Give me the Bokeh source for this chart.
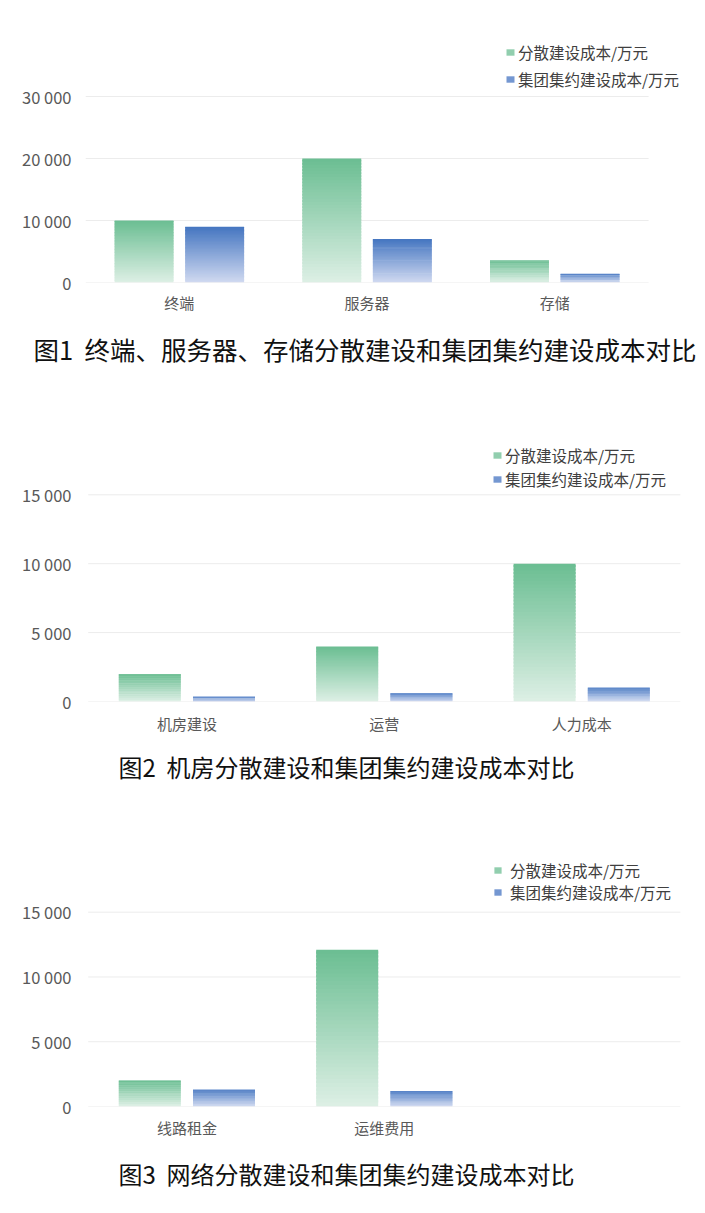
from bokeh.plotting import figure
from bokeh.models import (ColumnDataSource, Range1d, FixedTicker,
                          Legend, LegendItem, Title)
from bokeh.transform import dodge
from bokeh.layouts import column
from bokeh.embed import file_html
from bokeh.resources import INLINE
from bokeh.core.properties import value

# ---------------- data ----------------
series_names = ["分散建设成本/万元", "集团集约建设成本/万元"]

cats1 = ["终端", "服务器", "存储"]
dispersed1 = [10000, 20000, 3600]
central1 = [9000, 7000, 1400]
ticks1 = [0, 10000, 20000, 30000]
tick_labels1 = ["0", "10 000", "20 000", "30 000"]
caption1 = "图1\u00a0\u00a0终端、服务器、存储分散建设和集团集约建设成本对比"

cats2 = ["机房建设", "运营", "人力成本"]
dispersed2 = [2000, 4000, 10000]
central2 = [350, 600, 1000]
ticks2 = [0, 5000, 10000, 15000]
tick_labels2 = ["0", "5 000", "10 000", "15 000"]
caption2 = "图2\u00a0\u00a0机房分散建设和集团集约建设成本对比"

cats3 = ["线路租金", "运维费用", " "]
dispersed3 = [2000, 12100]
central3 = [1300, 1200]
ticks3 = [0, 5000, 10000, 15000]
tick_labels3 = ["0", "5 000", "10 000", "15 000"]
caption3 = "图3\u00a0\u00a0网络分散建设和集团集约建设成本对比"

# ---------------- styles ----------------
GREEN_TOP, GREEN_BOTTOM = "#6cbe93", "#dcefe4"
BLUE_TOP, BLUE_BOTTOM = "#4677c1", "#cfd8f0"
FONT = "Noto Sans CJK SC"
N_STEPS = 40
W = 705
FRAME_LEFT = 85


def mix(c1, c2, t):
    a = [int(c1[i:i + 2], 16) for i in (1, 3, 5)]
    b = [int(c2[i:i + 2], 16) for i in (1, 3, 5)]
    return "#%02x%02x%02x" % tuple(round(a[j] + (b[j] - a[j]) * t) for j in range(3))


def gradient_source(n_cats, vals, top_c, bot_c):
    # each bar is cut into N_STEPS slices, light at the bottom, dark at the top;
    # every slice slightly overlaps the next one (drawn later) to avoid seams
    xs, bottoms, tops, cols = [], [], [], []
    for k in range(N_STEPS):
        t = k / (N_STEPS - 1)
        for i, v in zip(range(n_cats), vals):
            xs.append(i)
            bottoms.append(v * k / N_STEPS)
            tops.append(min(v, v * (k + 1.6) / N_STEPS))
            cols.append(mix(bot_c, top_c, t))
    return ColumnDataSource(dict(xi=xs, bottom=bottoms, top=tops, color=cols))


def make_chart(cats, s1, s2, ticks, tick_labels, caption, g):
    frame_h = g["frame_h"]
    frame_w = W - FRAME_LEFT
    y_end = ticks[-1] * frame_h / g["top_tick_px"]
    x_start = -0.5 - (g["grid_left"] - FRAME_LEFT) / g["cat_w"]
    x_end = x_start + frame_w / g["cat_w"]
    p = figure(width=W, height=frame_h + g["mbb"], x_range=Range1d(x_start, x_end),
               y_range=Range1d(0, y_end), output_backend="svg",
               toolbar_location=None, min_border_left=FRAME_LEFT,
               min_border_right=0, min_border_top=0,
               min_border_bottom=g["mbb"])
    p.outline_line_color = None
    p.xgrid.grid_line_color = None
    p.ygrid.grid_line_color = None

    gsrc = ColumnDataSource(dict(y=ticks))
    p.segment(x0=-0.5, x1=len(cats) - 0.5, y0="y", y1="y", source=gsrc,
              line_color="#ececec", line_width=1)

    src1 = gradient_source(len(cats), s1, GREEN_TOP, GREEN_BOTTOM)
    src2 = gradient_source(len(cats), s2, BLUE_TOP, BLUE_BOTTOM)
    r1 = p.vbar(x=dodge("xi", -0.188), top="top", bottom="bottom",
                width=0.314, source=src1, fill_color="color", line_color=None)
    r2 = p.vbar(x=dodge("xi", 0.188), top="top", bottom="bottom",
                width=0.314, source=src2, fill_color="color", line_color=None)

    p.xaxis.ticker = FixedTicker(ticks=list(range(len(cats))))
    p.xaxis.major_label_overrides = {i: c for i, c in enumerate(cats)}
    p.yaxis.ticker = FixedTicker(ticks=ticks)
    p.yaxis.major_label_overrides = {t: l for t, l in zip(ticks, tick_labels)}
    for ax in (p.xaxis[0], p.yaxis[0]):
        ax.axis_line_color = None
        ax.major_tick_line_color = None
        ax.minor_tick_line_color = None
        ax.major_tick_out = 0
        ax.major_tick_in = 0
        ax.major_label_text_font = FONT
        ax.major_label_text_color = "#595959"
    p.xaxis.major_label_text_font_size = "15px"
    p.yaxis.major_label_text_font_size = "16.5px"
    p.yaxis.major_label_standoff = g["ystand"]
    p.xaxis.major_label_standoff = g["xstand"]

    idx1 = (N_STEPS - 14) * len(s1)
    idx2 = (N_STEPS - 14) * len(s2)
    legend = Legend(items=[LegendItem(label=value(series_names[0]), renderers=[r1], index=idx1),
                           LegendItem(label=value(series_names[1]), renderers=[r2], index=idx2)],
                    location=(g["leg_x"], g["leg_y"]), orientation="vertical",
                    padding=0, margin=0, spacing=g["leg_sp"],
                    glyph_width=g["gw"], glyph_height=8, label_standoff=g["ls"],
                    label_height=20, label_text_font=FONT, label_text_font_size="15.5px",
                    label_text_color="#404040", border_line_color=None,
                    background_fill_alpha=0)
    p.add_layout(legend)

    cap = Title(text=caption, align="left", offset=g["cap_x"] - FRAME_LEFT,
                standoff=g["cap_s"], text_font=FONT, text_font_size=g["cap_fs"],
                text_font_style="normal", text_color="#111111", vertical_align="middle")
    p.add_layout(cap, "below")
    return p


g1 = dict(frame_h=282, mbb=102, top_tick_px=186, cat_w=187.7, grid_left=85,
          ystand=14, xstand=9, leg_x=420, leg_y=192, leg_sp=5, gw=10, ls=3,
          cap_x=33, cap_s=27, cap_fs="25.5px")
g2 = dict(frame_h=317, mbb=98, top_tick_px=206.7, cat_w=197.4, grid_left=87.7,
          ystand=14, xstand=11, leg_x=407, leg_y=211, leg_sp=2, gw=10, ls=3,
          cap_x=118, cap_s=23, cap_fs="24px")
g3 = dict(frame_h=307, mbb=103, top_tick_px=194.3, cat_w=197.4, grid_left=87.7,
          ystand=14, xstand=10, leg_x=408, leg_y=203, leg_sp=0, gw=9, ls=8,
          cap_x=118, cap_s=29, cap_fs="24px")

p1 = make_chart(cats1, dispersed1, central1, ticks1, tick_labels1, caption1, g1)
p2 = make_chart(cats2, dispersed2, central2, ticks2, tick_labels2, caption2, g2)
p3 = make_chart(cats3, dispersed3, central3, ticks3, tick_labels3, caption3, g3)

layout = column(p1, p2, p3, spacing=0)
open("out.html", "w").write(file_html(layout, INLINE))
